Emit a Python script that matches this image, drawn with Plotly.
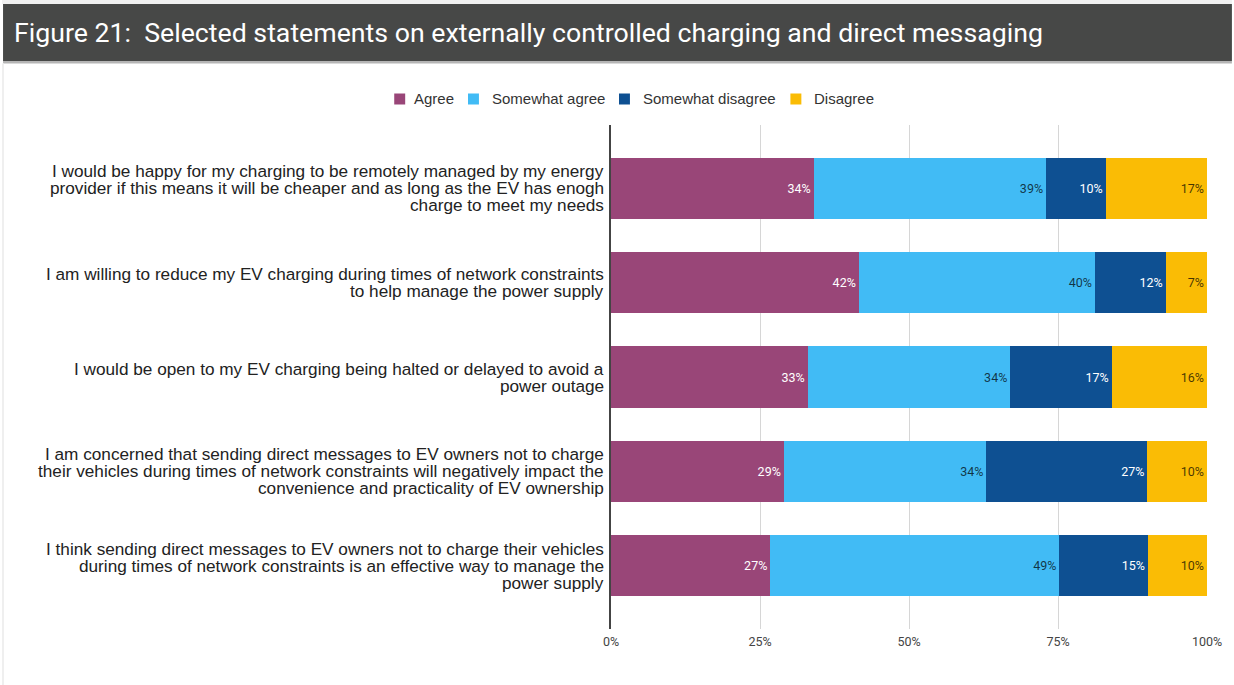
import plotly.graph_objects as go

# Survey statements (top to bottom) and the share of answers for each response
statements = [
    "I would be happy for my charging to be remotely managed by my energy provider if this means it will be cheaper and as long as the EV has enogh charge to meet my needs",
    "I am willing to reduce my EV charging during times of network constraints to help manage the power supply",
    "I would be open to my EV charging being halted or delayed to avoid a power outage",
    "I am concerned that sending direct messages to EV owners not to charge their vehicles during times of network constraints will negatively impact the convenience and practicality of EV ownership",
    "I think sending direct messages to EV owners not to charge their vehicles during times of network constraints is an effective way to manage the power supply",
]
statement_lines = [
    ["I would be happy for my charging to be remotely managed by my energy",
     "provider if this means it will be cheaper and as long as the EV has enogh",
     "charge to meet my needs"],
    ["I am willing to reduce my EV charging during times of network constraints",
     "to help manage the power supply"],
    ["I would be open to my EV charging being halted or delayed to avoid a",
     "power outage"],
    ["I am concerned that sending direct messages to EV owners not to charge",
     "their vehicles during times of network constraints will negatively impact the",
     "convenience and practicality of EV ownership"],
    ["I think sending direct messages to EV owners not to charge their vehicles",
     "during times of network constraints is an effective way to manage the",
     "power supply"],
]

agree = [34, 42, 33, 29, 27]
somewhat_agree = [39, 40, 34, 34, 49]
somewhat_disagree = [10, 12, 17, 27, 15]
disagree = [17, 7, 16, 10, 10]

x_ticks = [0, 25, 50, 75, 100]
x_tick_labels = ["0%", "25%", "50%", "75%", "100%"]

title_text = "Figure 21: \u00a0Selected statements on externally controlled charging and direct messaging"

series = [
    ("Agree", agree, "#994678", "#ffffff"),
    ("Somewhat agree", somewhat_agree, "#41bbf5", "rgba(0,0,0,0.72)"),
    ("Somewhat disagree", somewhat_disagree, "#0e5092", "#ffffff"),
    ("Disagree", disagree, "#fabc05", "rgba(0,0,0,0.72)"),
]

W, H = 1234, 685
ML, MR, MT, MB = 611, 25, 125, 56
PW, PH = W - ML - MR, H - MT - MB


def px_x(p):
    return (p - ML) / PW


def px_y(p):
    return (H - MB - p) / PH


fig = go.Figure()
for name, vals, color, txtcolor in series:
    fig.add_trace(go.Bar(
        name=name,
        y=statements,
        x=vals,
        orientation="h",
        marker=dict(color=color, line=dict(width=0)),
        text=[f"{v}%" for v in vals],
        texttemplate="%{text}",
        textposition="inside",
        insidetextanchor="end",
        textangle=0,
        textfont=dict(family="Roboto", size=12.5, color=txtcolor),
        hoverinfo="skip",
        showlegend=False,
    ))

annotations = []
shapes = []

# statement labels, one annotation per line, right-aligned against the axis
line_gap = 17
for cat, lines in zip(statements, statement_lines):
    n = len(lines)
    for i, line in enumerate(lines):
        annotations.append(dict(
            text=line, xref="paper", x=0, xanchor="right", xshift=-5,
            yref="y", y=cat, yanchor="middle",
            yshift=-(i - (n - 1) / 2) * line_gap,
            showarrow=False,
            font=dict(family="Arial, Liberation Sans", size=17.2, color="#222222"),
        ))

# key above the chart: coloured swatch followed by its label
legend_items = [("Agree", 399, 413), ("Somewhat agree", 473, 492),
                ("Somewhat disagree", 624.5, 643), ("Disagree", 796.5, 815)]
legend_y = 99
for (name, sx, tx), (_, _, color, _) in zip(legend_items, series):
    shapes.append(dict(
        type="rect", xref="paper", yref="paper",
        x0=px_x(sx - 5.5), x1=px_x(sx + 5.5), y0=px_y(legend_y - 5.5), y1=px_y(legend_y + 5.5),
        fillcolor=color, line=dict(width=0),
    ))
    annotations.append(dict(
        text=name, xref="paper", yref="paper", x=px_x(tx), xshift=-2,
        y=px_y(legend_y), xanchor="left", yanchor="middle", showarrow=False,
        font=dict(family="Arial, Liberation Sans", size=15, color="#333333"),
    ))

annotations.append(dict(
    text=title_text, xref="paper", yref="paper",
    x=px_x(10), y=px_y(33), xanchor="left", yanchor="middle",
    showarrow=False,
    font=dict(family="Roboto", size=26.7, color="#ffffff"),
))

shapes += [
    # light strip above the heading band
    dict(type="rect", xref="paper", yref="paper", x0=px_x(0), x1=px_x(W),
         y0=px_y(0), y1=px_y(4), fillcolor="#f1f1f1", line=dict(width=0), layer="below"),
    # heading band
    dict(type="rect", xref="paper", yref="paper", x0=px_x(1), x1=px_x(W),
         y0=px_y(4), y1=px_y(61), fillcolor="#474847", line=dict(width=0), layer="below"),
    dict(type="rect", xref="paper", yref="paper", x0=px_x(1), x1=px_x(W),
         y0=px_y(61), y1=px_y(63.5), fillcolor="#b5b5b5", line=dict(width=0), layer="below"),
    # left border strip
    dict(type="rect", xref="paper", yref="paper", x0=px_x(0), x1=px_x(2),
         y0=px_y(63.5), y1=px_y(H), fillcolor="#efefef", line=dict(width=0), layer="below"),
]

fig.update_layout(
    width=W, height=H,
    margin=dict(l=ML, r=MR, t=MT, b=MB, pad=0),
    barmode="stack",
    barnorm="percent",
    bargap=0.35,
    paper_bgcolor="#ffffff",
    plot_bgcolor="#ffffff",
    font=dict(family="Roboto", color="#444444"),
    showlegend=False,
    xaxis=dict(
        range=[0, 100], tickvals=x_ticks, ticktext=x_tick_labels,
        showgrid=True, gridcolor="#d6d6d6", gridwidth=1,
        zeroline=False, showline=False, ticks="",
        ticklabelstandoff=3,
        tickfont=dict(family="Roboto", size=12.5, color="#444444"),
        fixedrange=True,
    ),
    yaxis=dict(
        categoryorder="array", categoryarray=statements,
        range=[4.67, -0.67], showticklabels=False, ticks="",
        showgrid=False, zeroline=False,
        showline=True, linecolor="#444444", linewidth=1.5,
        fixedrange=True,
    ),
    annotations=annotations,
    shapes=shapes,
)

fig.write_html("out.html", config={"displayModeBar": False})
